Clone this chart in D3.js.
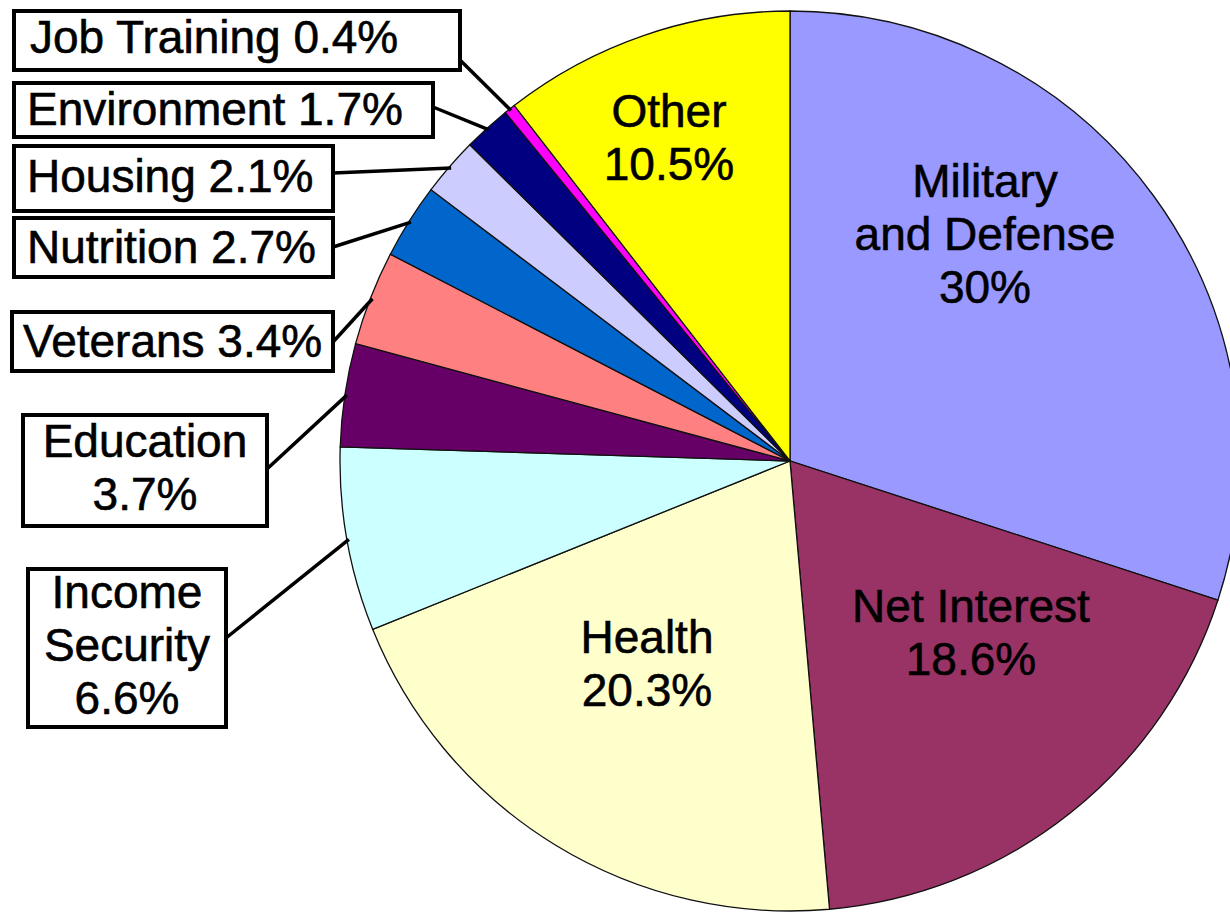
<html>
<head>
  <style type="text/css">
    body { margin: 0; background: #fff; }
    text { font-family: "Liberation Sans", Arial, sans-serif; font-size: 46px; fill: #000; stroke: #000; stroke-width: 0.6px; }
  </style>
</head>
<body>
  <svg width="1230" height="912"></svg>
  <script src="https://cdnjs.cloudflare.com/ajax/libs/d3/7.8.5/d3.min.js"></script>
  <script>
  // budget shares, clockwise from 12 o'clock
  const categories = ["Military and Defense", "Net Interest", "Health", "Income Security", "Education",
                      "Veterans", "Nutrition", "Housing", "Environment", "Job Training", "Other"];
  const values = [30, 18.6, 20.3, 6.6, 3.7, 3.4, 2.7, 2.1, 1.7, 0.4, 10.5];
  const colors = ["#9999ff", "#993366", "#ffffcc", "#ccffff", "#660066",
                  "#ff8080", "#0066cc", "#ccccff", "#000080", "#ff00ff", "#ffff00"];
  // how each label is broken into lines (value line appended)
  const labelLines = {
    "Military and Defense": ["Military", "and Defense"],
    "Net Interest": ["Net Interest"],
    "Health": ["Health"],
    "Other": ["Other"],
    "Education": ["Education"],
    "Income Security": ["Income", "Security"]
  };

  const svg = d3.select("svg"),
        cx = 790, cy = 461, r = 450, lineH = 53;

  const data = categories.map((c, i) => ({name: c, value: values[i], color: colors[i]}));

  const pie = d3.pie().sort(null).value(d => d.value);
  const arc = d3.arc().innerRadius(0).outerRadius(r);
  const arcs = pie(data);

  const g = svg.append("g").attr("transform", "translate(" + cx + "," + cy + ")");

  g.selectAll("path")
    .data(arcs)
    .enter().append("path")
      .attr("d", arc)
      .attr("fill", d => d.data.color)
      .attr("stroke", "#111")
      .attr("stroke-width", 1.3);

  // labels placed inside the big slices
  const inside = {
    "Military and Defense": {x: 985, y: 197},
    "Net Interest": {x: 971, y: 622},
    "Health": {x: 647, y: 653},
    "Other": {x: 669, y: 127}
  };

  // boxed labels on the left, with leader lines
  const boxes = {
    "Job Training":    {x: 14, y: 11,  w: 446, h: 59,  tx: 30,  ty: 53,  anchor: "start",  ax: 460, ay: 60},
    "Environment":     {x: 14, y: 83,  w: 419, h: 54,  tx: 27,  ty: 125, anchor: "start",  ax: 433, ay: 107},
    "Housing":         {x: 14, y: 146, w: 319, h: 65,  tx: 27,  ty: 192, anchor: "start",  ax: 333, ay: 173},
    "Nutrition":       {x: 14, y: 218, w: 319, h: 59,  tx: 27,  ty: 263, anchor: "start",  ax: 333, ay: 247},
    "Veterans":        {x: 12, y: 312, w: 321, h: 59,  tx: 23,  ty: 357, anchor: "start",  ax: 333, ay: 342},
    "Education":       {x: 23, y: 415, w: 244, h: 111, tx: 145, ty: 457, anchor: "middle", ax: 267, ay: 469},
    "Income Security": {x: 28, y: 569, w: 198, h: 158, tx: 127, ty: 608, anchor: "middle", ax: 226, ay: 638}
  };

  const lines = d => (labelLines[d.data.name] ? labelLines[d.data.name].concat([d.data.value + "%"])
                                              : [d.data.name + " " + d.data.value + "%"]);

  arcs.filter(d => inside[d.data.name]).forEach(d => {
    const p = inside[d.data.name];
    svg.append("text")
      .attr("text-anchor", "middle")
      .selectAll("tspan")
      .data(lines(d))
      .enter().append("tspan")
        .attr("x", p.x)
        .attr("y", (t, i) => p.y + i * lineH)
        .text(t => t);
  });

  const edge = d3.arc().innerRadius(r - 2).outerRadius(r - 2);

  arcs.filter(d => boxes[d.data.name]).forEach(d => {
    const b = boxes[d.data.name];
    const e = edge.centroid(d);
    svg.append("line")
      .attr("x1", b.ax).attr("y1", b.ay)
      .attr("x2", cx + e[0]).attr("y2", cy + e[1])
      .attr("stroke", "#000")
      .attr("stroke-width", 3.5);
    svg.append("rect")
      .attr("x", b.x).attr("y", b.y)
      .attr("width", b.w).attr("height", b.h)
      .attr("fill", "#fff")
      .attr("stroke", "#000")
      .attr("stroke-width", 4);
    svg.append("text")
      .attr("text-anchor", b.anchor)
      .selectAll("tspan")
      .data(lines(d))
      .enter().append("tspan")
        .attr("x", b.tx)
        .attr("y", (t, i) => b.ty + i * lineH)
        .text(t => t);
  });
  </script>
</body>
</html>
